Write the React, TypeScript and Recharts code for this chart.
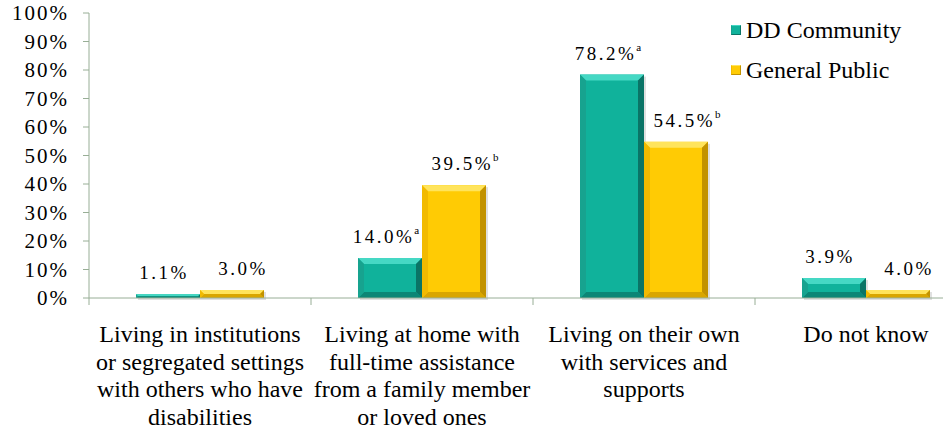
import React from "react";
import { BarChart, Bar, XAxis, YAxis, Legend, LabelList } from "recharts";

const categories = [
  "Living in institutions\nor segregated settings\nwith others who have\ndisabilities",
  "Living at home with\nfull-time assistance\nfrom a family member\nor loved ones",
  "Living on their own\nwith services and\nsupports",
  "Do not know",
];

// bar heights as drawn in the picture
const ddCommunity = [1.3, 14.0, 78.4, 7.0];
const generalPublic = [2.8, 39.6, 54.8, 2.8];

// printed value labels
const ddLabels = ["1.1%", "14.0%", "78.2%", "3.9%"];
const ddSup = ["", "a", "a", ""];
const gpLabels = ["3.0%", "39.5%", "54.5%", "4.0%"];
const gpSup = ["", "b", "b", ""];

const yTicks = [0, 10, 20, 30, 40, 50, 60, 70, 80, 90, 100];

const data = categories.map((c, i) => ({
  category: c,
  dd: ddCommunity[i],
  gp: generalPublic[i],
}));

const FONT = '"Liberation Serif", "Times New Roman", serif';
const AXIS = "#98ae96";

const TEAL = { face: "#10b29b", top: "#45d8c4", left: "#17a38f", right: "#0a7466", bottom: "#0c8676" };
const GOLD = { face: "#ffcb04", top: "#ffe45c", left: "#f2ba00", right: "#c29200", bottom: "#d9a600" };

function bevel(c: typeof TEAL) {
  return (props: any) => {
    const { x, y, width: w, height: h } = props;
    if (!h || h <= 0) return <g />;
    const b = Math.min(6, h / 2, w / 2);
    return (
      <g>
        <rect x={x + 2} y={y + 2} width={w} height={h} fill="rgba(0,0,0,0.12)" />
        <rect x={x} y={y} width={w} height={h} fill={c.face} />
        <polygon points={`${x},${y} ${x + w},${y} ${x + w - b},${y + b} ${x + b},${y + b}`} fill={c.top} />
        <polygon points={`${x},${y + h} ${x + w},${y + h} ${x + w - b},${y + h - b} ${x + b},${y + h - b}`} fill={c.bottom} />
        <polygon points={`${x},${y} ${x + b},${y + b} ${x + b},${y + h - b} ${x},${y + h}`} fill={c.left} />
        <polygon points={`${x + w},${y} ${x + w - b},${y + b} ${x + w - b},${y + h - b} ${x + w},${y + h}`} fill={c.right} />
      </g>
    );
  };
}

function valueLabel(texts: string[], sups: string[], dx: number) {
  return (props: any) => {
    const { x, y, width, index } = props;
    return (
      <text
        x={x + width / 2 + dx}
        y={y - 15}
        textAnchor="middle"
        fontFamily={FONT}
        fontSize={19}
        letterSpacing={2.5}
        fill="#000"
      >
        {texts[index]}
        {sups[index] ? (
          <tspan fontSize={11} letterSpacing={0} dy={-9}>
            {sups[index]}
          </tspan>
        ) : null}
      </text>
    );
  };
}

function CategoryTick(props: any) {
  const { x, y, payload } = props;
  const half = payload.offset ?? 111;
  const lines = String(payload.value).split("\n");
  return (
    <g>
      <line x1={x - half} y1={y} x2={x - half} y2={y + 7} stroke={AXIS} />
      <text textAnchor="middle" fontFamily={FONT} fontSize={24} fill="#000">
        {lines.map((l, i) => (
          <tspan key={i} x={x} y={y + 44 + i * 27.5}>
            {l}
          </tspan>
        ))}
      </text>
    </g>
  );
}

function LegendBox() {
  const rows = [
    { name: "DD Community", c: TEAL },
    { name: "General Public", c: GOLD },
  ];
  return (
    <div style={{ fontFamily: FONT, fontSize: 24, color: "#000" }}>
      {rows.map((r) => (
        <div key={r.name} style={{ display: "flex", alignItems: "center", height: 40, whiteSpace: "nowrap" }}>
          <span
            style={{
              display: "inline-block",
              width: 8,
              height: 8,
              background: r.c.face,
              border: `1.5px solid ${r.c.right}`,
              borderTopColor: r.c.top,
              borderLeftColor: r.c.left,
              marginRight: 5,
            }}
          />
          <span>{r.name}</span>
        </div>
      ))}
    </div>
  );
}

export default function App() {
  return (
    <div style={{ position: "absolute", left: 0, top: 0, width: 943, height: 431, overflow: "hidden", background: "#fff" }}>
      <BarChart
        width={990}
        height={431}
        data={data}
        margin={{ top: 13, right: 13, left: 0, bottom: 13 }}
        barGap={0}
        barSize={64}
      >
        <YAxis
          width={89}
          domain={[0, 100]}
          ticks={yTicks}
          interval={0}
          tickFormatter={(v) => `${v}%`}
          axisLine={{ stroke: AXIS }}
          tickLine={{ stroke: AXIS }}
          tickSize={6}
          tickMargin={14}
          tick={{ fontFamily: FONT, fontSize: 21, letterSpacing: 2, fill: "#000" }}
        />
        <XAxis
          dataKey="category"
          height={120}
          interval={0}
          axisLine={{ stroke: AXIS }}
          tickLine={false}
          tickSize={0}
          tickMargin={0}
          tick={<CategoryTick />}
        />
        <Legend
          layout="vertical"
          align="center"
          verticalAlign="middle"
          content={<LegendBox />}
          wrapperStyle={{ left: 731, top: 10, right: "auto", bottom: "auto", width: 220 }}
        />
        <Bar dataKey="dd" name="DD Community" fill={TEAL.face} shape={bevel(TEAL)} isAnimationActive={false}>
          <LabelList dataKey="dd" content={valueLabel(ddLabels, ddSup, -4)} />
        </Bar>
        <Bar dataKey="gp" name="General Public" fill={GOLD.face} shape={bevel(GOLD)} isAnimationActive={false}>
          <LabelList dataKey="gp" content={valueLabel(gpLabels, gpSup, 11)} />
        </Bar>
      </BarChart>
    </div>
  );
}
